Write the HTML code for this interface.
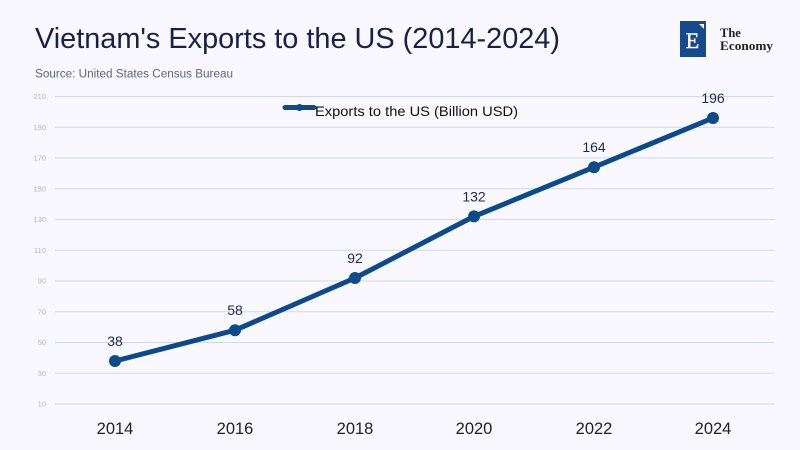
<!DOCTYPE html>
<html>
<head>
<meta charset="utf-8">
<style>
  html, body { margin:0; padding:0; background:#f8f8fe; }
  svg { display:block; }
</style>
</head>
<body>
<svg width="800" height="450" viewBox="0 0 800 450" xmlns="http://www.w3.org/2000/svg">
  <rect x="0" y="0" width="800" height="450" fill="#f8f8fe"/>
  <!-- Title -->
  <text x="35" y="48" font-family="Liberation Sans, sans-serif" font-size="29" fill="#1a1f48" textLength="525" lengthAdjust="spacingAndGlyphs">Vietnam's Exports to the US (2014-2024)</text>
  <text x="35" y="77.5" font-family="Liberation Sans, sans-serif" font-size="11.5" fill="#5c6388" textLength="198" lengthAdjust="spacingAndGlyphs">Source: United States Census Bureau</text>

  <!-- Logo -->
  <rect x="680" y="21" width="26" height="36" fill="#174a8c"/>
  <text x="692.5" y="48" text-anchor="middle" font-family="Liberation Serif, serif" font-size="22" fill="#ffffff" stroke="#ffffff" stroke-width="0.4">E</text>
  <polygon points="699,24 704,24 704,29" fill="#ffffff"/>
  <text x="720" y="37" font-family="Liberation Serif, serif" font-weight="bold" font-size="12.5" fill="#222">The</text>
  <text x="720" y="50" font-family="Liberation Serif, serif" font-weight="bold" font-size="12.5" fill="#222" textLength="53" lengthAdjust="spacingAndGlyphs">Economy</text>

  <!-- Gridlines -->
  <g stroke="#d0d7e6" stroke-width="1">
    <line x1="55" y1="96.5" x2="774" y2="96.5"/>
    <line x1="55" y1="127.25" x2="774" y2="127.25"/>
    <line x1="55" y1="158" x2="774" y2="158"/>
    <line x1="55" y1="188.75" x2="774" y2="188.75"/>
    <line x1="55" y1="219.5" x2="774" y2="219.5"/>
    <line x1="55" y1="250.25" x2="774" y2="250.25"/>
    <line x1="55" y1="281" x2="774" y2="281"/>
    <line x1="55" y1="311.75" x2="774" y2="311.75"/>
    <line x1="55" y1="342.5" x2="774" y2="342.5"/>
    <line x1="55" y1="373.25" x2="774" y2="373.25"/>
    <line x1="55" y1="404" x2="774" y2="404" stroke="#d4d6dc"/>
  </g>

  <!-- Y labels -->
  <g font-family="Liberation Sans, sans-serif" font-size="7.5" fill="#b4b4be" text-anchor="end">
    <text x="46" y="99">210</text>
    <text x="46" y="130">190</text>
    <text x="46" y="160.5">170</text>
    <text x="46" y="191.5">150</text>
    <text x="46" y="222">130</text>
    <text x="46" y="253">110</text>
    <text x="46" y="283.5">90</text>
    <text x="46" y="314.5">70</text>
    <text x="46" y="345">50</text>
    <text x="46" y="376">30</text>
    <text x="46" y="406.5">10</text>
  </g>

  <!-- Legend -->
  <line x1="285" y1="107.5" x2="314" y2="107.5" stroke="#0d4a8a" stroke-width="5" stroke-linecap="round"/>
  <circle cx="299.5" cy="107.5" r="3.5" fill="#0d4a8a"/>
  <text x="315" y="116" font-family="Liberation Sans, sans-serif" font-size="14" fill="#111" textLength="203" lengthAdjust="spacingAndGlyphs">Exports to the US (Billion USD)</text>

  <!-- Series -->
  <polyline points="115,361 235,330.2 355,278 474,216.4 594,167.2 713,118" fill="none" stroke="#0d4a8a" stroke-width="5" stroke-linejoin="round" stroke-linecap="round"/>
  <g fill="#0d4a8a">
    <circle cx="115" cy="361" r="6"/>
    <circle cx="235" cy="330.2" r="6"/>
    <circle cx="355" cy="278" r="6"/>
    <circle cx="474" cy="216.4" r="6"/>
    <circle cx="594" cy="167.2" r="6"/>
    <circle cx="713" cy="118" r="6"/>
  </g>

  <!-- Data labels -->
  <g font-family="Liberation Sans, sans-serif" font-size="14" fill="#1c2a50" text-anchor="middle">
    <text x="115" y="346">38</text>
    <text x="235" y="315.2">58</text>
    <text x="355" y="263">92</text>
    <text x="474" y="201.4">132</text>
    <text x="594" y="152.2">164</text>
    <text x="713" y="103">196</text>
  </g>

  <!-- X labels -->
  <g font-family="Liberation Sans, sans-serif" font-size="16.5" fill="#222" text-anchor="middle">
    <text x="115" y="434">2014</text>
    <text x="235" y="434">2016</text>
    <text x="355" y="434">2018</text>
    <text x="474" y="434">2020</text>
    <text x="594" y="434">2022</text>
    <text x="713" y="434">2024</text>
  </g>
</svg>
</body>
</html>
